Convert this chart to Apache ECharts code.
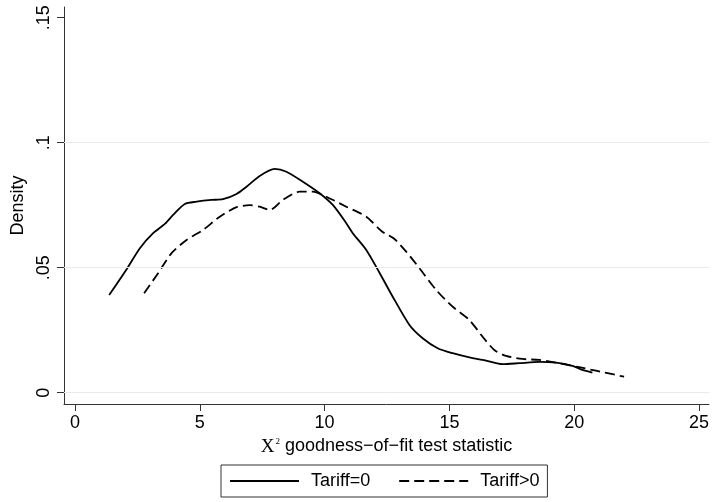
<!DOCTYPE html>
<html><head><meta charset="utf-8">
<script src="https://cdn.jsdelivr.net/npm/echarts@6/dist/echarts.min.js"></script>
<style>html,body{margin:0;padding:0;background:#fff}#c{width:712px;height:502px}</style>
</head><body><div id="c"></div>
<script>
const seriesNames = ['Tariff=0', 'Tariff>0'];
const tariff0X = [1.37, 2.07, 2.6, 3.13, 3.6, 3.93, 4.4, 4.87, 5.47, 5.93, 6.47, 6.87, 7.4, 8.0, 8.47, 9.13, 9.8, 10.33, 10.87, 11.13, 11.67, 12.2, 12.73, 13.4, 13.93, 14.53, 15.13, 15.93, 16.47, 17.13, 17.8, 18.6, 19.27, 19.93, 20.33, 20.73];
const tariff0Y = [0.0391, 0.0494, 0.0578, 0.0638, 0.0675, 0.0711, 0.0755, 0.0764, 0.0771, 0.0774, 0.0795, 0.0824, 0.0867, 0.0895, 0.0884, 0.0844, 0.0798, 0.0751, 0.0678, 0.0638, 0.0571, 0.0480, 0.0384, 0.0271, 0.0218, 0.0178, 0.0158, 0.0138, 0.0128, 0.0114, 0.0118, 0.0123, 0.0120, 0.0107, 0.0091, 0.0080];
const tariffPosX = [2.77, 3.33, 3.87, 4.47, 5.13, 5.8, 6.47, 7.0, 7.4, 7.8, 8.33, 9.0, 9.53, 10.07, 10.87, 11.67, 12.3, 12.8, 13.27, 13.8, 14.47, 15.13, 15.8, 16.33, 16.8, 17.27, 17.93, 18.6, 19.27, 20.2, 20.87, 22.0];
const tariffPosY = [0.0398, 0.0478, 0.0558, 0.0611, 0.0651, 0.0704, 0.0742, 0.0750, 0.0744, 0.0731, 0.0771, 0.0804, 0.0804, 0.0784, 0.0744, 0.0704, 0.0645, 0.0615, 0.0564, 0.0498, 0.0411, 0.0344, 0.0291, 0.0224, 0.0171, 0.0147, 0.0135, 0.0131, 0.0120, 0.0102, 0.0088, 0.0064];
const xTicks = [0, 5, 10, 15, 20, 25];
const yTicks = [0, 0.05, 0.1, 0.15];
const yTickLabels = ['0', '.05', '.1', '.15'];
const yGridValues = [0, 0.05, 0.1];

const font = "'Liberation Sans', Arial, Helvetica, sans-serif";
const serif = "'Liberation Serif', 'DejaVu Serif', serif";
const pairs = (xs, ys) => xs.map((x, i) => [x, ys[i]]);

const chart = echarts.init(document.getElementById('c'), null, { renderer: 'canvas' });
chart.setOption({
  animation: false,
  backgroundColor: '#ffffff',
  textStyle: { fontFamily: font, color: '#000' },
  grid: { left: 64, right: 2, top: 7, bottom: 98, containLabel: false },
  xAxis: {
    type: 'value',
    min: -0.44, max: 25.4,
    axisLine: { show: true, onZero: false, lineStyle: { color: '#333', width: 1 } },
    axisTick: { show: true, length: 7, customValues: xTicks, lineStyle: { color: '#333', width: 1 } },
    axisLabel: { customValues: xTicks, fontSize: 18, color: '#000', margin: 10, fontFamily: font },
    splitLine: { show: false },
    name: '{x|X}{s|2} goodness\u2212of\u2212fit test statistic',
    nameLocation: 'middle',
    nameGap: 27,
    nameTextStyle: {
      fontSize: 18, color: '#000', fontFamily: font,
      rich: {
        x: { fontFamily: serif, fontSize: 19, lineHeight: 22, color: '#000', verticalAlign: 'bottom' },
        s: { fontFamily: serif, fontSize: 9, lineHeight: 10, color: '#000', verticalAlign: 'bottom', padding: [0, 0, 11, 1] }
      }
    }
  },
  yAxis: {
    type: 'value',
    min: -0.00452, max: 0.15428,
    axisLine: { show: true, onZero: false, lineStyle: { color: '#333', width: 1 } },
    axisTick: { show: true, length: 7, customValues: yTicks, lineStyle: { color: '#333', width: 1 } },
    axisLabel: {
      customValues: yTicks, rotate: 90, fontSize: 18, color: '#000', margin: 11, fontFamily: font,
      formatter: v => { const i = yTicks.findIndex(t => Math.abs(t - v) < 1e-9); return i >= 0 ? yTickLabels[i] : ''; }
    },
    splitLine: { show: false },
    name: 'Density',
    nameLocation: 'middle',
    nameGap: 31,
    nameTextStyle: { fontSize: 18, color: '#000', fontFamily: font }
  },
  legend: {
    data: seriesNames,
    left: 221, top: 465,
    orient: 'horizontal',
    padding: [7, 8, 7, 8],
    itemGap: 28,
    itemWidth: 69,
    itemHeight: 18,
    borderColor: '#333',
    borderWidth: 1,
    backgroundColor: '#fff',
    selectedMode: false,
    itemStyle: { opacity: 0 },
    textStyle: { fontSize: 18, color: '#000', fontFamily: font, padding: [0, 0, 0, 7] }
  },
  series: [
    {
      name: 'grid', type: 'line', data: [], z: 1, silent: true,
      markLine: {
        silent: true, symbol: 'none', label: { show: false }, animation: false,
        lineStyle: { color: '#e4ecef', type: 'solid', width: 1 },
        data: yGridValues.map(v => ({ yAxis: v }))
      }
    },
    {
      name: seriesNames[0], type: 'line', data: pairs(tariff0X, tariff0Y), z: 3,
      showSymbol: false, symbol: 'none', smooth: 0.25,
      lineStyle: { color: '#000', width: 1.8, type: 'solid' },
      itemStyle: { color: '#000' }
    },
    {
      name: seriesNames[1], type: 'line', data: pairs(tariffPosX, tariffPosY), z: 3,
      showSymbol: false, symbol: 'none', smooth: 0.25,
      lineStyle: { color: '#000', width: 1.8, type: [10, 5] },
      itemStyle: { color: '#000' }
    }
  ]
});
</script>
</body></html>
